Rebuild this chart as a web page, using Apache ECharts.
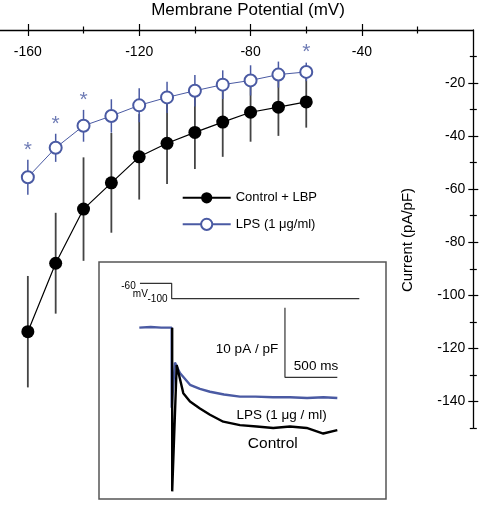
<!DOCTYPE html>
<html><head><meta charset="utf-8">
<script src="https://cdn.jsdelivr.net/npm/echarts@6/dist/echarts.min.js"></script>
<style>html,body{margin:0;padding:0;background:#fff}#c{width:488px;height:510px}</style>
</head><body><div id="c"></div><script>
// ---- main I-V data ----
const voltages = [-160,-150,-140,-130,-120,-110,-100,-90,-80,-70,-60];
const controlMean = [-113.7,-87.9,-67.5,-57.6,-47.8,-42.7,-38.6,-34.7,-31.0,-29.1,-27.1];
const controlSE = [21.0,19.0,19.5,18.8,16.1,15.3,13.8,13.1,11.1,10.8,9.7];
const lpsMean = [-55.5,-44.4,-36.1,-32.4,-28.4,-25.4,-22.9,-20.6,-19.0,-16.8,-15.8];
const lpsSE = [6.6,5.3,6.0,6.3,6.4,5.9,5.9,5.4,5.7,4.9,3.5];
const significant = [1,1,1,0,0,0,0,0,0,0,1];
const xMajorTicks = [-160,-120,-80,-40];
const xMinorTicks = [-140,-100,-60,-20];
const yMajorTicks = [-20,-40,-60,-80,-100,-120,-140];
const yMinorTicks = [-10,-30,-50,-70,-90,-110,-130,-150];
const seriesNames = ['Control + LBP','LPS (1 μg/ml)'];

// ---- inset: example traces (time ms, current pA/pF relative to holding) ----
const lpsTraceT = [-309,-200,-100,0,0,31,79,175,270,366,500,652,800,968,1130,1293,1450,1582];
const lpsTraceI = [0,0.1,0,0,-11.5,-5.0,-6.5,-8.2,-8.8,-9.2,-9.6,-9.9,-9.9,-10.0,-10.0,-10.1,-10.0,-10.1];
const controlTraceT = [5,5,48,111,175,270,366,493,652,812,970,1130,1289,1448,1582];
const controlTraceI = [0,-23.5,-5.35,-9.4,-10.6,-11.6,-12.5,-13.5,-14.0,-14.2,-14.4,-14.2,-14.4,-15.2,-14.7];
const protocolT = [-303,0,0,1792];
const protocolV = [-60,-60,-100,-100];
const scaleBarT = [1082,1082,1582];
const scaleBarI = [2.87,-7.13,-7.13];

const BLUE = '#4a5aa3';
const FONT = 'Liberation Sans';

function errorBars(means, ses, color, width, z) {
  return {
    type: 'custom', xAxisIndex: 0, yAxisIndex: 0, z: z, silent: true,
    data: voltages.map((v,i)=>[v, means[i]-ses[i], means[i]+ses[i]]),
    encode: {x: 0, y: [1,2]},
    renderItem(params, api) {
      const a = api.coord([api.value(0), api.value(1)]);
      const b = api.coord([api.value(0), api.value(2)]);
      return {type:'line', shape:{x1:a[0],y1:a[1],x2:b[0],y2:b[1]}, style:{stroke:color, lineWidth:width}};
    }
  };
}
function xTickAxis(vals, len, inside, main) {
  return {
    type:'value', gridIndex:0, min:-170, max:0, position:'top',
    axisLine:{show:!!main, onZero:false, lineStyle:{color:'#000', width:1.3}},
    axisTick:{show:true, customValues:vals, length:len, inside:inside, lineStyle:{color:'#000', width:1.2}},
    axisLabel: main ? {show:true, inside:true, customValues:xMajorTicks, margin:15, fontSize:14, color:'#000', fontFamily:FONT} : {show:false},
    splitLine:{show:false}
  };
}
function yTickAxis(vals, len, inside, main) {
  return {
    type:'value', gridIndex:0, min:-150, max:0, position:'right',
    axisLine:{show:!!main, onZero:false, lineStyle:{color:'#000', width:1.3}},
    axisTick:{show:true, customValues:vals, length:len, inside:inside, lineStyle:{color:'#000', width:1.2}},
    axisLabel: main ? {show:true, inside:true, customValues:yMajorTicks, margin:8, fontSize:14, color:'#000', fontFamily:FONT} : {show:false},
    splitLine:{show:false}
  };
}

const chart = echarts.init(document.getElementById('c'), null, {renderer:'canvas'});
chart.setOption({
  animation:false,
  backgroundColor:'#fff',
  grid:[
    {left:0, right:14.7, top:30, bottom:82, containLabel:false, outerBoundsMode:'none'},
    {left:99, top:262, width:287, height:237, show:true, borderColor:'#555', borderWidth:1.5, backgroundColor:'#fff', containLabel:false, outerBoundsMode:'none'}
  ],
  xAxis:[
    xTickAxis(xMajorTicks, 6, false, true),
    xTickAxis(xMajorTicks, 6, true, false),
    xTickAxis(xMinorTicks, 3.5, false, false),
    xTickAxis(xMinorTicks, 3.5, true, false),
    {type:'value', gridIndex:1, min:-694, max:2047, show:false}
  ],
  yAxis:[
    yTickAxis(yMajorTicks, 5, false, true),
    yTickAxis(yMajorTicks, 5, true, false),
    yTickAxis(yMinorTicks, 3.5, false, false),
    yTickAxis(yMinorTicks, 3.5, true, false),
    {type:'value', gridIndex:1, min:-24.6, max:9.43, show:false},
    {type:'value', gridIndex:1, min:-620, max:-4.7, show:false}
  ],
  legend:{
    data:seriesNames, orient:'vertical', left:181.7, top:191.3, padding:0,
    itemWidth:48, itemHeight:14, itemGap:13.4,
    textStyle:{fontSize:13, color:'#000', fontFamily:FONT}
  },
  graphic:[
    {type:'text', x:248, y:10, style:{x:0,y:0,text:'Membrane Potential (mV)', align:'center', verticalAlign:'middle', font:'17px "Liberation Sans"', fill:'#000'}},
    {type:'text', x:408, y:240, rotation:Math.PI/2, style:{x:0,y:0,text:'Current (pA/pF)', align:'center', verticalAlign:'middle', font:'15px "Liberation Sans"', fill:'#000'}},
    {type:'text', x:247, y:349.3, z:20, style:{x:0,y:0,text:'10 pA / pF', align:'center', verticalAlign:'middle', font:'13.5px "Liberation Sans"', fill:'#000'}},
    {type:'text', x:316, y:366.7, z:20, style:{x:0,y:0,text:'500 ms', align:'center', verticalAlign:'middle', font:'13.5px "Liberation Sans"', fill:'#000'}},
    {type:'text', x:281.7, y:415, z:20, style:{x:0,y:0,text:'LPS (1 μg / ml)', align:'center', verticalAlign:'middle', font:'13.5px "Liberation Sans"', fill:'#000'}},
    {type:'text', x:272.8, y:443.3, z:20, style:{x:0,y:0,text:'Control', align:'center', verticalAlign:'middle', font:'15.5px "Liberation Sans"', fill:'#000'}},
    {type:'text', x:128.5, y:286, z:20, style:{x:0,y:0,text:'-60', align:'center', verticalAlign:'middle', font:'10px "Liberation Sans"', fill:'#000'}},
    {type:'text', x:140.3, y:294, z:20, style:{x:0,y:0,text:'mV', align:'center', verticalAlign:'middle', font:'10px "Liberation Sans"', fill:'#000'}},
    {type:'text', x:157.5, y:299, z:20, style:{x:0,y:0,text:'-100', align:'center', verticalAlign:'middle', font:'10px "Liberation Sans"', fill:'#000'}}
  ],
  series:[
    errorBars(controlMean, controlSE, '#444', 1.8, 1),
    errorBars(lpsMean, lpsSE, BLUE, 1.5, 1),
    {
      name:seriesNames[0], type:'line', xAxisIndex:0, yAxisIndex:0, z:3,
      data:voltages.map((v,i)=>[v, controlMean[i]]),
      symbol:'circle', symbolSize:13, color:'#000',
      lineStyle:{color:'#000', width:1.2}, itemStyle:{color:'#000'}
    },
    {
      name:seriesNames[1], type:'line', xAxisIndex:0, yAxisIndex:0, z:4,
      data:voltages.map((v,i)=>[v, lpsMean[i]]),
      symbol:'emptyCircle', symbolSize:12, color:BLUE,
      lineStyle:{color:BLUE, width:1}, itemStyle:{color:BLUE, borderWidth:1.3}
    },
    {
      type:'scatter', xAxisIndex:0, yAxisIndex:0, z:5, silent:true,
      data:voltages.map((v,i)=>significant[i] ? [v, lpsMean[i]+lpsSE[i]] : null).filter(d=>d),
      symbol:'circle', symbolSize:1, itemStyle:{color:'rgba(0,0,0,0)'},
      label:{show:true, formatter:'*', position:'top', distance:-1, fontSize:21, color:BLUE, fontFamily:FONT}
    },
    // inset
    {type:'line', xAxisIndex:4, yAxisIndex:5, z:10, showSymbol:false, symbol:'none', silent:true,
     data:protocolT.map((t,i)=>[t, protocolV[i]]), lineStyle:{color:'#333', width:1.2}},
    {type:'line', xAxisIndex:4, yAxisIndex:4, z:10, showSymbol:false, symbol:'none', silent:true,
     data:scaleBarT.map((t,i)=>[t, scaleBarI[i]]), lineStyle:{color:'#333', width:1.2}},
    {type:'line', xAxisIndex:4, yAxisIndex:4, z:10, showSymbol:false, symbol:'none', silent:true,
     data:lpsTraceT.map((t,i)=>[t, lpsTraceI[i]]), lineStyle:{color:BLUE, width:2.4}},
    {type:'line', xAxisIndex:4, yAxisIndex:4, z:11, showSymbol:false, symbol:'none', silent:true,
     data:controlTraceT.map((t,i)=>[t, controlTraceI[i]]), lineStyle:{color:'#000', width:2.4}}
  ]
});
</script></body></html>
